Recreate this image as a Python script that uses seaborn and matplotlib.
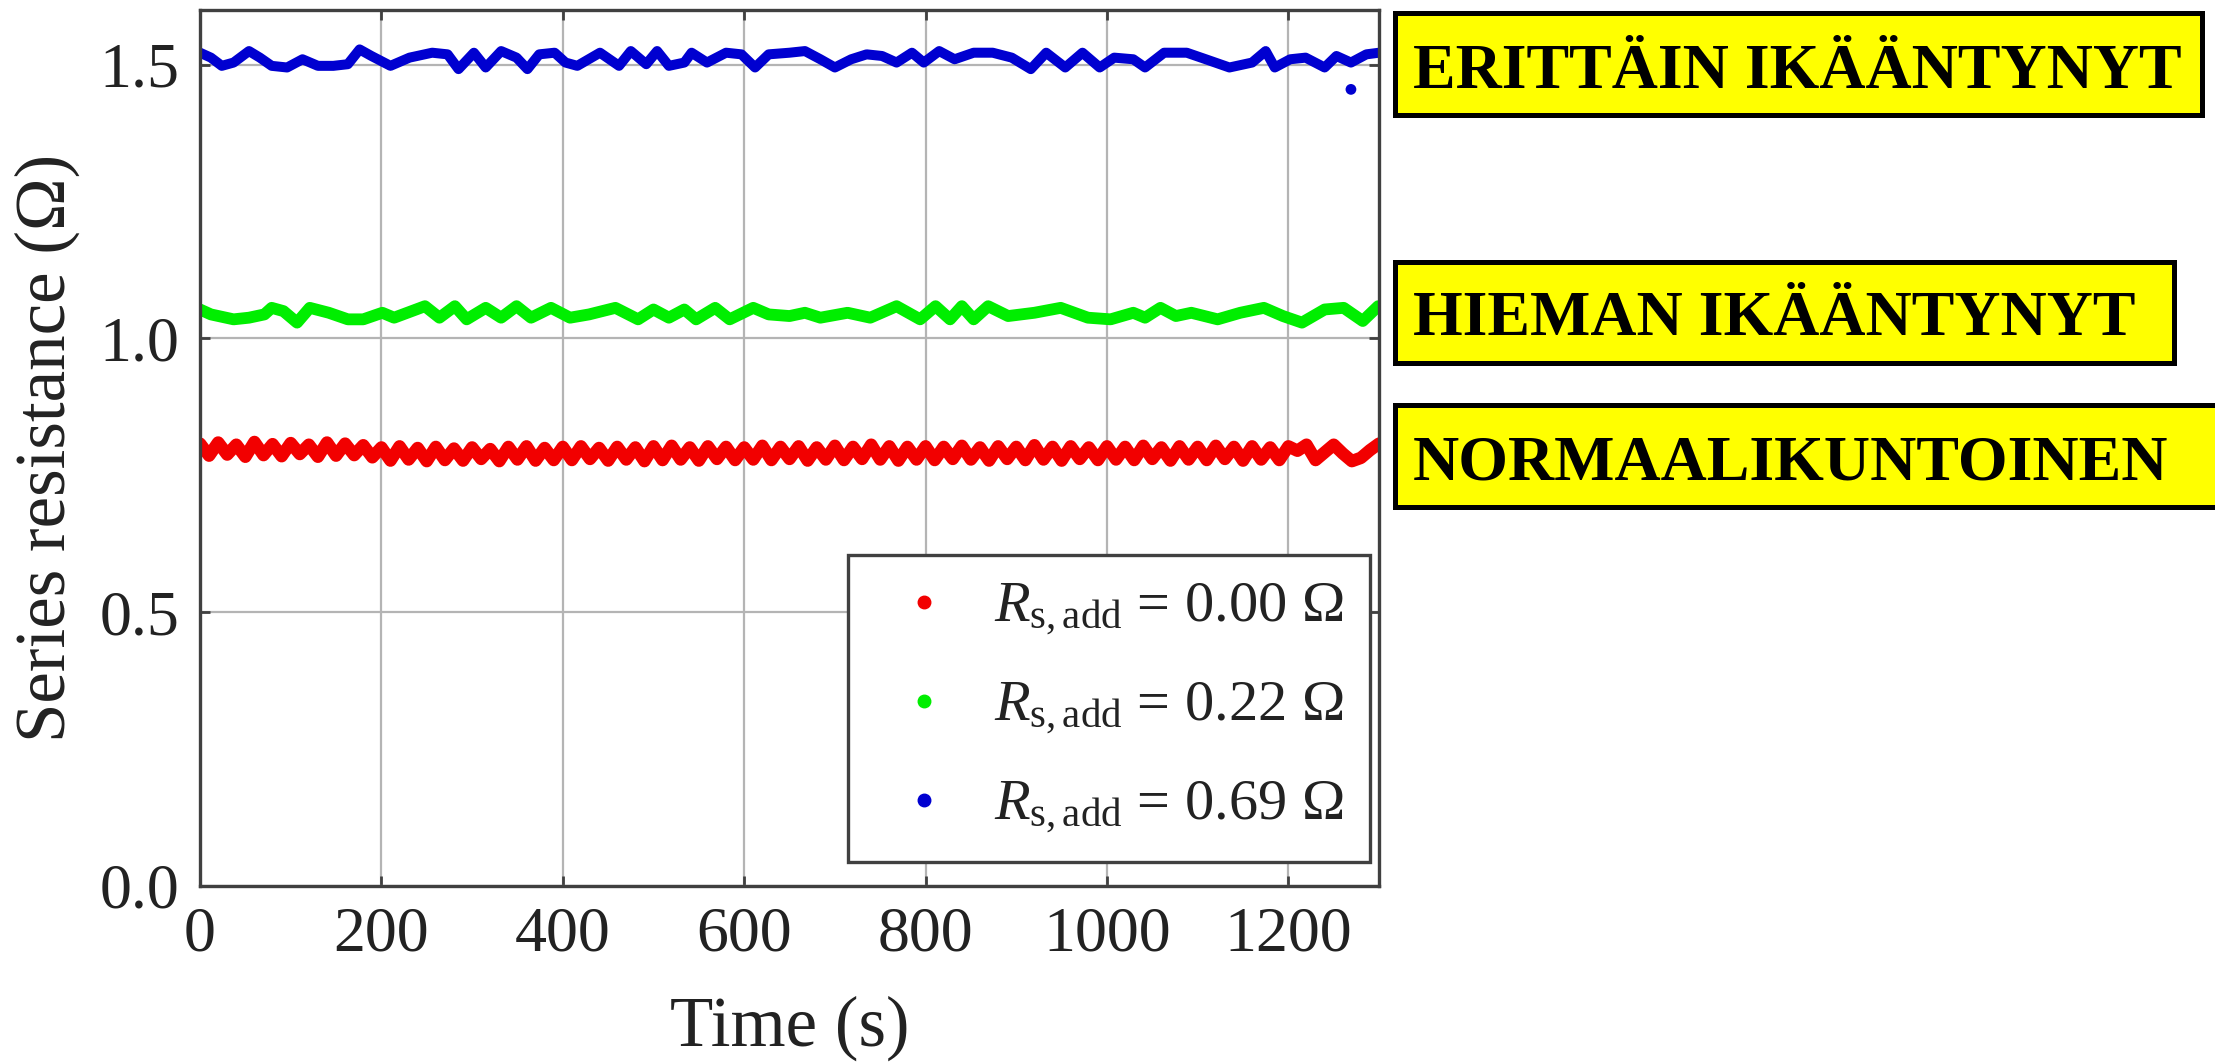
import numpy as np
import pandas as pd
import matplotlib
matplotlib.use("Agg")
import matplotlib.pyplot as plt
from matplotlib.patches import Rectangle
from matplotlib.lines import Line2D
import seaborn as sns

# ---------------- data ----------------
blue_time = [0, 12, 24, 37, 54, 66, 79, 96, 113, 130, 147, 163, 176, 189, 210, 231, 256, 273,
             285, 302, 315, 332, 349, 361, 374, 391, 403, 416, 441, 462, 475, 492, 504, 517,
             534, 542, 559, 580, 597, 612, 627, 650, 667, 684, 700, 718, 735, 752, 768, 785,
             798, 815, 832, 853, 874, 895, 916, 933, 954, 973, 992, 1008, 1029, 1042, 1063,
             1088, 1109, 1135, 1160, 1175, 1185, 1202, 1219, 1240, 1253, 1269, 1286, 1300]
blue_vals = [1.522, 1.513, 1.498, 1.504, 1.525, 1.513, 1.498, 1.495, 1.510, 1.498, 1.498, 1.501,
             1.528, 1.516, 1.498, 1.513, 1.522, 1.519, 1.492, 1.522, 1.495, 1.525, 1.513, 1.492,
             1.519, 1.522, 1.504, 1.498, 1.522, 1.498, 1.525, 1.501, 1.525, 1.498, 1.504, 1.522,
             1.504, 1.522, 1.519, 1.495, 1.519, 1.522, 1.525, 1.510, 1.495, 1.510, 1.519, 1.516,
             1.504, 1.522, 1.504, 1.525, 1.510, 1.522, 1.522, 1.513, 1.492, 1.522, 1.495, 1.522,
             1.495, 1.513, 1.510, 1.495, 1.522, 1.522, 1.510, 1.495, 1.504, 1.525, 1.495, 1.510,
             1.513, 1.495, 1.516, 1.504, 1.519, 1.522]
blue_outlier_time = [1269]
blue_outlier_vals = [1.455]

green_time = [0, 12, 37, 54, 71, 79, 92, 107, 121, 142, 163, 180, 201, 214, 248, 264, 281, 294,
              315, 332, 349, 365, 387, 408, 429, 458, 483, 500, 517, 534, 547, 568, 584, 610,
              627, 650, 667, 684, 714, 739, 768, 794, 811, 827, 840, 853, 869, 891, 920, 949,
              979, 1004, 1029, 1042, 1059, 1076, 1093, 1122, 1147, 1173, 1194, 1215, 1240,
              1261, 1282, 1299]
green_vals = [1.053, 1.044, 1.035, 1.038, 1.044, 1.056, 1.050, 1.029, 1.056, 1.047, 1.035, 1.035,
              1.047, 1.038, 1.059, 1.038, 1.059, 1.035, 1.056, 1.038, 1.059, 1.038, 1.056, 1.038,
              1.044, 1.056, 1.035, 1.053, 1.038, 1.053, 1.035, 1.056, 1.035, 1.056, 1.044, 1.041,
              1.047, 1.038, 1.047, 1.038, 1.059, 1.035, 1.059, 1.035, 1.059, 1.035, 1.059, 1.041,
              1.047, 1.056, 1.038, 1.035, 1.047, 1.038, 1.056, 1.041, 1.047, 1.035, 1.047, 1.056,
              1.041, 1.029, 1.053, 1.056, 1.032, 1.059]

red_time = list(range(0, 1310, 10))
red_vals = [0.808, 0.786, 0.810, 0.788, 0.806, 0.784, 0.811, 0.787, 0.807, 0.785,
            0.809, 0.789, 0.806, 0.784, 0.810, 0.786, 0.808, 0.787, 0.805, 0.783,
            0.801, 0.777, 0.803, 0.779, 0.800, 0.776, 0.802, 0.778, 0.799, 0.777,
            0.801, 0.780, 0.798, 0.776, 0.802, 0.779, 0.803, 0.777, 0.800, 0.778,
            0.802, 0.778, 0.803, 0.780, 0.800, 0.777, 0.802, 0.779, 0.801, 0.776,
            0.803, 0.778, 0.804, 0.779, 0.801, 0.777, 0.803, 0.780, 0.802, 0.778,
            0.801, 0.779, 0.804, 0.778, 0.802, 0.780, 0.803, 0.777, 0.801, 0.779,
            0.804, 0.778, 0.802, 0.780, 0.806, 0.779, 0.803, 0.777, 0.802, 0.779,
            0.803, 0.778, 0.802, 0.780, 0.804, 0.779, 0.801, 0.777, 0.803, 0.780,
            0.802, 0.778, 0.805, 0.779, 0.802, 0.777, 0.803, 0.780, 0.801, 0.778,
            0.803, 0.779, 0.802, 0.778, 0.804, 0.780, 0.801, 0.777, 0.803, 0.779,
            0.802, 0.778, 0.804, 0.780, 0.802, 0.777, 0.803, 0.779, 0.801, 0.778,
            0.803, 0.795, 0.806, 0.778, 0.792, 0.806, 0.790, 0.776, 0.782, 0.796, 0.808]

series_labels = [r"$R_{\mathrm{s,add}}$ = 0.00 Ω",
                 r"$R_{\mathrm{s,add}}$ = 0.22 Ω",
                 r"$R_{\mathrm{s,add}}$ = 0.69 Ω"]
series_colors = ["#f20000", "#00ee00", "#0000d0"]

x_ticks = [0, 200, 400, 600, 800, 1000, 1200]
y_ticks = [0.0, 0.5, 1.0, 1.5]
y_ticklabels = ["0.0", "0.5", "1.0", "1.5"]

box_texts = ["ERITTÄIN IKÄÄNTYNYT", "HIEMAN IKÄÄNTYNYT", "NORMAALIKUNTOINEN"]

# ---------------- style ----------------
sns.set_theme(style="whitegrid")
plt.rcParams["font.family"] = ["Liberation Serif", "DejaVu Serif"]
plt.rcParams["mathtext.fontset"] = "custom"
plt.rcParams["mathtext.rm"] = "Liberation Serif"
plt.rcParams["mathtext.it"] = "Liberation Serif:italic"
plt.rcParams["mathtext.bf"] = "Liberation Serif:bold"

fig = plt.figure(figsize=(22.15, 10.64), dpi=100)
fig.patch.set_facecolor("white")
ax = fig.add_axes([0.0903, 0.1673, 0.5323, 0.8233])
ax.set_facecolor("white")

# ---------------- series ----------------
sns.lineplot(x=red_time, y=red_vals, ax=ax, color=series_colors[0], linewidth=9.0,
             estimator=None, sort=False, legend=False)
sns.lineplot(x=green_time, y=green_vals, ax=ax, color=series_colors[1], linewidth=8.5,
             estimator=None, sort=False, legend=False)
sns.lineplot(x=blue_time, y=blue_vals, ax=ax, color=series_colors[2], linewidth=7.2,
             estimator=None, sort=False, legend=False)
sns.scatterplot(x=blue_outlier_time, y=blue_outlier_vals, ax=ax, color=series_colors[2],
                s=60, edgecolor="none", legend=False)

# ---------------- axes ----------------
ax.set_xlim(0, 1300)
ax.set_ylim(0, 1.6)
ax.set_xticks(x_ticks)
ax.set_yticks(y_ticks)
ax.set_yticklabels(y_ticklabels)
ax.grid(True, color="#b4b4b4", linewidth=1.6)
ax.tick_params(axis="both", which="major", direction="in", length=7, width=2,
               color="#404040", labelsize=46, labelcolor="#222222", pad=15,
               top=True, right=True, bottom=True, left=True)
for sp in ax.spines.values():
    sp.set_visible(True)
    sp.set_color("#404040")
    sp.set_linewidth(2.4)

ax.set_xlabel("Time (s)", fontsize=51, color="#222222", labelpad=22)
ax.set_ylabel("Series resistance (Ω)", fontsize=51, color="#222222", labelpad=14)

handles = [Line2D([], [], marker="o", linestyle="", color=c, markersize=9) for c in series_colors]
leg = ax.legend(handles, series_labels, loc="lower right", bbox_to_anchor=(0.992, 0.027),
                borderaxespad=0, fontsize=42, frameon=True, fancybox=False, framealpha=1,
                edgecolor="#404040", handlelength=1.7, handletextpad=0.35, borderpad=0.45,
                labelspacing=0.72)
leg.get_frame().set_linewidth(2.4)
for t in leg.get_texts():
    t.set_color("#222222")

# ---------------- yellow annotation boxes ----------------
boxes = [(0.6298, 0.8919, 0.3643, 0.0959, 0.9173),
         (0.6298, 0.6588, 0.3517, 0.0949, 0.6852),
         (0.6298, 0.5235, 0.3815, 0.0959, 0.5489)]
for (x0, y0, w, h, yb), txt in zip(boxes, box_texts):
    rect = Rectangle((x0, y0), w, h, transform=fig.transFigure, facecolor="#ffff00",
                     edgecolor="black", linewidth=3.6, clip_on=False, zorder=5)
    fig.patches.append(rect)
    fig.text(0.6379, yb, txt, transform=fig.transFigure, fontsize=46, fontweight="bold",
             family=["Liberation Serif", "DejaVu Serif"], color="black",
             ha="left", va="baseline", zorder=6)

fig.savefig("out.png", dpi=100, facecolor="white")
